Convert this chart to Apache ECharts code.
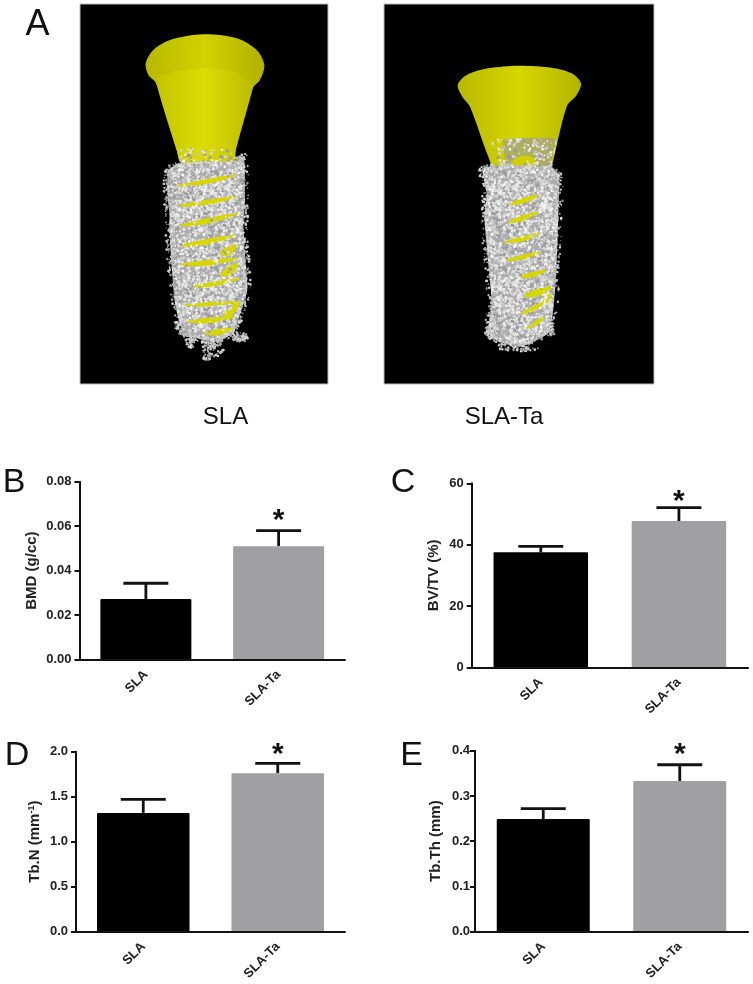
<!DOCTYPE html>
<html>
<head>
<meta charset="utf-8">
<style>
  html, body { margin: 0; padding: 0; background: #fff; }
  #main { width: 753px; height: 984px; }
</style>
<script src="https://cdn.jsdelivr.net/npm/echarts@6/dist/echarts.min.js"></script>
</head>
<body>
<div id="main"></div>
<script>
var categories = ['SLA', 'SLA-Ta'];
var starred = 'SLA-Ta';

var bmdValues = [0.0272, 0.051];
var bmdTops = [0.0343, 0.058];
var bmdTicks = [0, 0.02, 0.04, 0.06, 0.08];

var bvValues = [37.5, 47.7];
var bvTops = [39.4, 52.1];
var bvTicks = [0, 20, 40, 60];

var tbnValues = [1.32, 1.76];
var tbnTops = [1.47, 1.87];
var tbnTicks = [0, 0.5, 1.0, 1.5, 2.0];

var tbthValues = [0.249, 0.333];
var tbthTops = [0.272, 0.369];
var tbthTicks = [0, 0.1, 0.2, 0.3, 0.4];

var FONT = '"Liberation Sans", Arial, sans-serif';

var panels = [
  { name: 'BMD (g/cc)', values: bmdValues, tops: bmdTops, ticks: bmdTicks, decimals: 2,
    left: 79.5, right: 345, top: 481.7, bottom: 659.5, barWidth: 91, gap: 40, labelGap: 8, starUp: 16 },
  { name: 'BV/TV (%)', values: bvValues, tops: bvTops, ticks: bvTicks, decimals: 0,
    left: 471.7, right: 748, top: 483.3, bottom: 667.3, barWidth: 94.5, gap: 30, labelGap: 8, starUp: 12 },
  { name: '{a|Tb.N (mm}{s|-1}{a|)}', values: tbnValues, tops: tbnTops, ticks: tbnTicks, decimals: 1,
    left: 76, right: 345, top: 751.7, bottom: 931.7, barWidth: 92.5, gap: 33, labelGap: 8, starUp: 15 },
  { name: 'Tb.Th (mm)', values: tbthValues, tops: tbthTops, ticks: tbthTicks, decimals: 1,
    left: 475, right: 748, top: 750.7, bottom: 931.7, barWidth: 93, gap: 32, labelGap: 5, starUp: 16 }
];

// speckle texture for the bone in panel A, from a small fixed generator
var seed = 12345;
function next() {
  seed = (seed * 16807) % 2147483647;
  return seed / 2147483647;
}
function makeTile(bg, count) {
  var c = document.createElement('canvas');
  c.width = c.height = 96;
  var ctx = c.getContext('2d');
  if (bg) {
    ctx.fillStyle = bg;
    ctx.fillRect(0, 0, 96, 96);
  }
  var shades = ['#f6f6f6', '#ececec', '#e2e2e2', '#d6d6d6', '#c6c6c6', '#9a9a9a'];
  for (var i = 0; i < count; i++) {
    ctx.fillStyle = shades[Math.floor(next() * shades.length)];
    ctx.beginPath();
    ctx.arc(next() * 96, next() * 96, 0.6 + next() * 1.1, 0, Math.PI * 2);
    ctx.fill();
  }
  return c;
}
var boneTile = { image: makeTile('#adadad', 2000), repeat: 'repeat' };
var denseTile = { image: makeTile(null, 620), repeat: 'repeat' };
var sparseTile = { image: makeTile(null, 220), repeat: 'repeat' };

function gradient(a, b, c) {
  return new echarts.graphic.LinearGradient(0, 0, 1, 0, [
    { offset: 0, color: a }, { offset: 0.5, color: b }, { offset: 1, color: c }
  ]);
}

// outlines below are written in the px of a 3x crop, shifted by ox
function pts(list, ox) {
  return list.map(function (p) { return [ox + p[0] / 3, p[1] / 3]; });
}
function poly(list, ox, fill, smooth, z) {
  return { type: 'polygon', silent: true, z: z, shape: { points: pts(list, ox), smooth: smooth }, style: { fill: fill } };
}
function band(b, ox) {
  var mx = (b[0] + b[2]) / 2, my = (b[1] + b[3]) / 2;
  return poly([[b[0], b[1]], [mx, my + b[4] * 1.3], [b[2], b[3]], [mx, my - b[4] * 0.6]], ox, '#d6d600', 0.4, 13);
}
function speck(x, y, r, z) {
  var shades = ['#d8d8d8', '#bcbcbc', '#969696', '#cccccc'];
  return { type: 'circle', silent: true, z: z, shape: { cx: x, cy: y, r: r }, style: { fill: shades[Math.floor(next() * 4)] } };
}
function edgeSpecks(list, ox) {
  var out = [];
  for (var i = 0; i < list.length; i++) {
    var a = list[i], b = list[(i + 1) % list.length];
    for (var k = 0; k < 34; k++) {
      var t = next();
      out.push(speck(
        ox + (a[0] + (b[0] - a[0]) * t) / 3 + (next() - 0.5) * 8,
        (a[1] + (b[1] - a[1]) * t) / 3 + (next() - 0.5) * 6,
        0.5 + next() * 0.9, 15));
    }
  }
  return out;
}
function cluster(c, ox) {
  var out = [];
  for (var i = 0; i < c[4]; i++) {
    var ang = next() * Math.PI * 2, rad = Math.sqrt(next());
    out.push(speck(
      ox + (c[0] + Math.cos(ang) * rad * c[2]) / 3,
      (c[1] + Math.sin(ang) * rad * c[3]) / 3,
      0.5 + next() * 1.0, 15));
  }
  return out;
}

var leftBody = [[295, 510], [330, 490], [500, 482], [522, 470], [525, 600], [520, 680], [528, 800], [532, 870],
  [505, 960], [490, 1000], [440, 1025], [400, 1020], [340, 1000], [315, 910], [305, 800], [300, 720], [298, 640], [292, 570]];
var rightBody = [[322, 505], [380, 497], [530, 500], [553, 530], [550, 640], [545, 800], [535, 930], [520, 1000],
  [440, 1040], [370, 1025], [340, 1000], [350, 900], [340, 790], [328, 650], [335, 580]];
var leftBands = [[318, 558, 500, 525, 8], [320, 618, 500, 590, 8], [325, 678, 505, 640, 9], [325, 738, 500, 705, 9],
  [325, 795, 505, 775, 9], [365, 860, 510, 835, 8], [340, 915, 500, 905, 7], [350, 965, 495, 950, 9], [400, 1000, 490, 985, 10],
  [450, 760, 500, 735, 16], [450, 825, 505, 790, 16], [460, 945, 510, 905, 16]];
var rightBands = [[400, 612, 490, 585, 9], [395, 667, 490, 635, 9], [385, 727, 495, 700, 9], [385, 782, 500, 755, 7],
  [430, 832, 515, 810, 8], [445, 887, 530, 860, 12], [500, 912, 530, 880, 12], [435, 942, 510, 905, 8], [450, 985, 510, 950, 8]];
var leftBits = [[510, 1012, 26, 14, 70], [430, 1045, 32, 26, 70], [362, 1020, 16, 26, 50], [410, 1072, 12, 10, 25], [322, 975, 10, 14, 20]];
var rightBits = [[430, 1045, 60, 10, 40], [345, 1000, 10, 20, 20], [530, 995, 10, 12, 15]];

var photoElements = [
  { type: 'rect', silent: true, z: 10, shape: { x: 80, y: 4, width: 248, height: 380 }, style: { fill: '#000', stroke: '#bbb', lineWidth: 1 } },
  { type: 'rect', silent: true, z: 10, shape: { x: 384, y: 4, width: 270, height: 380 }, style: { fill: '#000', stroke: '#bbb', lineWidth: 1 } },
  // left implant head and cone
  poly([[227, 190], [250, 150], [300, 120], [400, 103], [500, 115], [560, 150], [583, 195], [570, 240], [548, 265],
    [497, 450], [490, 490], [335, 490], [320, 450], [258, 250], [235, 225]], 70, gradient('#b8b800', '#d2d200', '#b0b000'), 0.3, 11),
  poly([[258, 240], [300, 217], [400, 205], [480, 212], [540, 240], [548, 265], [497, 450], [490, 490], [335, 490], [320, 450]],
    70, gradient('#c4c400', '#dcdc04', '#bcbc00'), 0.15, 12),
  poly(leftBody, 70, boneTile, 0.15, 12),
  poly([[322, 450], [360, 445], [400, 450], [497, 445], [497, 480], [500, 495], [330, 500]], 70, denseTile, 0, 13),
  // right implant head and cone
  poly([[248, 255], [275, 225], [340, 205], [430, 197], [530, 203], [590, 220], [618, 250], [605, 285], [575, 320],
    [530, 500], [520, 525], [370, 525], [340, 470], [285, 320], [262, 290]], 375, gradient('#b8b800', '#d6d600', '#b4b400'), 0.3, 11),
  poly([[347, 418], [450, 414], [548, 415], [528, 505], [525, 530], [372, 530]], 375, denseTile, 0, 12),
  poly([[385, 420], [450, 414], [540, 416], [522, 510], [500, 530], [400, 530]], 375, 'rgba(160,160,140,0.7)', 0.1, 12),
  poly([[385, 420], [450, 414], [540, 416], [522, 510], [500, 530], [400, 530]], 375, denseTile, 0, 12),
  poly([[415, 480], [470, 470], [480, 510], [420, 525]], 375, '#cfcf00', 0.4, 12),
  poly([[410, 475], [480, 465], [490, 520], [415, 530]], 375, sparseTile, 0, 12),
  poly(rightBody, 375, boneTile, 0.15, 12)
];
leftBands.forEach(function (b) { photoElements.push(band(b, 70)); });
rightBands.forEach(function (b) { photoElements.push(band(b, 375)); });
photoElements.push(poly(leftBody, 70, sparseTile, 0.15, 14));
photoElements.push(poly(rightBody, 375, sparseTile, 0.15, 14));
photoElements = photoElements.concat(edgeSpecks(leftBody, 70), edgeSpecks(rightBody, 375));
leftBits.forEach(function (c) { photoElements = photoElements.concat(cluster(c, 70)); });
rightBits.forEach(function (c) { photoElements = photoElements.concat(cluster(c, 375)); });

function label(text, x, y, size) {
  return {
    type: 'text', silent: true, z: 20,
    style: { text: text, x: x, y: y, align: 'center', verticalAlign: 'middle', font: size + 'px ' + FONT, fill: '#111' }
  };
}
var labelElements = [
  label('A', 37.5, 25, 36),
  label('SLA', 225.5, 417, 24),
  label('SLA-Ta', 504, 417, 24),
  label('B', 14, 482.5, 34),
  label('C', 403, 482.5, 34),
  label('D', 17, 755.5, 34),
  label('E', 411.5, 755.5, 34)
];

function errorSeries(p, idx) {
  return {
    type: 'custom',
    xAxisIndex: idx,
    yAxisIndex: idx,
    z: 1,
    clip: false,
    silent: true,
    encode: { x: 0, y: [1, 2] },
    data: categories.map(function (c, i) { return [i, p.values[i], p.tops[i]]; }),
    renderItem: function (params, api) {
      var base = api.coord([api.value(0), api.value(1)]);
      var top = api.coord([api.value(0), api.value(2)]);
      var lineStyle = { stroke: '#111', lineWidth: 2.8 };
      var children = [
        { type: 'line', shape: { x1: base[0], y1: base[1], x2: top[0], y2: top[1] }, style: lineStyle },
        { type: 'line', shape: { x1: top[0] - 22.5, y1: top[1], x2: top[0] + 22.5, y2: top[1] }, style: lineStyle }
      ];
      if (categories[params.dataIndex] === starred) {
        children.push({
          type: 'text',
          style: { text: '*', x: top[0], y: top[1] - p.starUp + 6.5, align: 'center', verticalAlign: 'middle', font: 'bold 30px ' + FONT, fill: '#111' }
        });
      }
      return { type: 'group', children: children };
    }
  };
}

var grids = [], xAxes = [], yAxes = [], series = [];
panels.forEach(function (p, idx) {
  grids.push({
    left: p.left, top: p.top, width: p.right - p.left, height: p.bottom - p.top,
    containLabel: false, outerBoundsMode: 'none'
  });
  xAxes.push({
    type: 'category', gridIndex: idx, data: categories, z: 5,
    axisTick: { alignWithLabel: true, length: 5, lineStyle: { color: '#111', width: 2 } },
    axisLine: { lineStyle: { color: '#111', width: 2 } },
    axisLabel: { rotate: 45, margin: 13, interval: 0, fontFamily: FONT, fontWeight: 'bold', fontSize: 13, color: '#222' }
  });
  yAxes.push({
    type: 'value', gridIndex: idx, z: 5,
    min: p.ticks[0],
    max: p.ticks[p.ticks.length - 1],
    interval: p.ticks[1] - p.ticks[0],
    name: p.name,
    nameLocation: 'middle',
    nameGap: p.gap,
    nameTextStyle: {
      fontFamily: FONT, fontWeight: 'bold', fontSize: 15, color: '#222',
      rich: {
        a: { fontFamily: FONT, fontWeight: 'bold', fontSize: 15, color: '#222' },
        s: { fontFamily: FONT, fontWeight: 'bold', fontSize: 9, color: '#222', padding: [0, 0, 7, 0] }
      }
    },
    splitLine: { show: false },
    axisTick: { show: true, length: 5, lineStyle: { color: '#111', width: 2 } },
    axisLine: { show: true, lineStyle: { color: '#111', width: 2 } },
    axisLabel: {
      margin: p.labelGap, fontFamily: FONT, fontWeight: 'bold', fontSize: 13, color: '#222',
      formatter: function (v) { return v.toFixed(p.decimals); }
    }
  });
  series.push({
    type: 'bar', xAxisIndex: idx, yAxisIndex: idx, barWidth: p.barWidth, silent: true,
    data: p.values.map(function (v, i) {
      return { value: v, itemStyle: { color: i === 0 ? '#000000' : '#a0a0a4', borderRadius: 1 } };
    })
  });
  series.push(errorSeries(p, idx));
});

var chart = echarts.init(document.getElementById('main'), null, { renderer: 'canvas' });
chart.setOption({
  animation: false,
  backgroundColor: '#fff',
  tooltip: { show: false },
  grid: grids,
  xAxis: xAxes,
  yAxis: yAxes,
  series: series,
  graphic: { elements: photoElements.concat(labelElements) }
});
</script>
</body>
</html>
